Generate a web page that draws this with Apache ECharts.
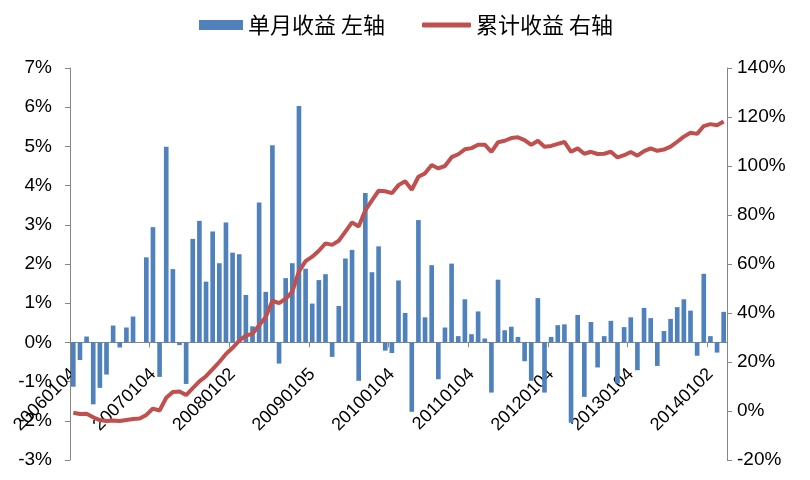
<!DOCTYPE html>
<html>
<head>
<meta charset="utf-8">
<script src="https://cdn.jsdelivr.net/npm/echarts@6/dist/echarts.min.js"></script>
<style>html,body{margin:0;padding:0;background:#fff;}#c{width:810px;height:480px;}</style>
</head>
<body>
<div id="c"></div>
<script>
// Tick labels shown on the x axis (first trading day of each year)
var yearTicks = ['20060104','20070104','20080102','20090105','20100104','20110104','20120104','20130104','20140102'];
var startYear = 2006;
var monthCount = 99;

// Monthly return (%), left axis
var monthly = [
 -1.13,-0.45,0.15,-1.58,-1.16,-0.82,0.43,-0.13,0.38,0.66,0.00,2.17,
 2.94,-0.88,4.99,1.87,-0.07,-1.06,2.64,3.10,1.55,2.83,2.02,3.06,
 2.29,2.25,1.21,0.41,3.57,1.29,5.03,-0.54,1.64,2.02,6.03,1.88,
 0.99,1.59,1.74,-0.37,0.93,2.14,2.36,-0.98,3.81,1.79,2.45,-0.21,
 -0.27,1.58,0.75,-1.77,3.12,0.64,1.97,-0.94,0.38,2.01,0.16,1.10,
 0.21,0.79,0.10,-1.28,1.60,0.31,0.40,0.14,-0.48,-0.98,1.13,-1.28,
 0.14,0.44,0.46,-2.05,0.70,-1.39,0.52,-0.64,0.16,0.55,-1.05,0.39,
 0.64,-0.71,0.88,0.62,-0.60,0.29,0.60,0.90,1.10,0.81,-0.34,1.75,
 0.16,-0.26,0.78
];

// Cumulative return (%), right axis
var cumulative = [
 -0.7,-1.2,-1.1,-2.6,-3.7,-4.1,-3.9,-4.1,-3.7,-3.3,-3.1,-1.6,
 1.0,0.2,5.4,7.8,8.0,6.5,9.3,12.1,14.2,17.1,20.0,23.3,
 25.8,28.7,30.8,31.5,35.0,38.4,45.0,44.0,45.8,48.7,57.0,61.2,
 63.0,65.4,68.4,67.8,69.5,73.2,77.0,75.3,81.9,86.0,89.9,89.7,
 88.9,92.2,93.8,90.3,95.6,97.0,100.4,99.0,100.0,103.6,104.8,106.8,
 107.3,108.7,108.7,105.8,109.7,110.3,111.4,111.7,110.6,108.6,110.3,107.9,
 108.2,109.0,109.8,105.8,107.2,105.0,105.8,104.9,105.0,105.8,103.5,104.4,
 105.7,104.2,106.1,107.2,106.2,106.7,107.9,109.9,112.0,113.6,113.1,116.3,
 117.1,116.6,118.2
];

var seriesNames = ['单月收益 左轴','累计收益 右轴'];

var categories = [];
for (var i = 0; i < monthCount; i++) {
  if (i % 12 === 0) { categories.push(yearTicks[i / 12]); }
  else {
    var y = startYear + Math.floor(i / 12), m = (i % 12) + 1;
    categories.push(String(y) + (m < 10 ? '0' + m : m));
  }
}

var axisGray = '#868686';
var latin = 'Liberation Sans';
var gridTop = 68, gridBottom = 20, chartH = 480;
var leftMin = -3, leftMax = 7;
// place the category axis on the zero line of the left axis
var plotH = chartH - gridTop - gridBottom;
var zeroOffset = -plotH * (0 - leftMin) / (leftMax - leftMin);

var chart = echarts.init(document.getElementById('c'), null, {renderer: 'canvas'});
chart.setOption({
  animation: false,
  backgroundColor: '#fff',
  legend: [
    {data: [seriesNames[0]], left: 194, top: 9, itemWidth: 44, itemHeight: 10, icon: 'rect',
     textStyle: {fontSize: 22, color: '#000', fontFamily: 'Noto Sans CJK SC'}},
    {data: [seriesNames[1]], left: 417, top: 9, itemWidth: 49, itemHeight: 5, icon: 'roundRect',
     textStyle: {fontSize: 22, color: '#000', fontFamily: 'Noto Sans CJK SC'}}
  ],
  grid: {left: 70, right: 83, top: gridTop, bottom: gridBottom, containLabel: false, outerBoundsMode: 'none'},
  xAxis: {
    type: 'category', data: categories, boundaryGap: true, position: 'bottom', offset: zeroOffset,
    axisLine: {onZero: false, lineStyle: {color: axisGray, width: 1}},
    axisTick: {show: true, interval: 11, length: 5, lineStyle: {color: axisGray}},
    axisLabel: {interval: 11, rotate: 45, margin: 29, fontSize: 18, color: '#000', fontFamily: latin},
    splitLine: {show: false}
  },
  yAxis: [
    {type: 'value', position: 'left', min: leftMin, max: leftMax, interval: 1,
     axisLine: {show: true, lineStyle: {color: axisGray}},
     axisTick: {show: true, length: 5, lineStyle: {color: axisGray}},
     axisLabel: {formatter: '{value}%', color: '#000', fontSize: 19, margin: 18, fontFamily: latin},
     splitLine: {show: false}},
    {type: 'value', position: 'right', min: -20, max: 140, interval: 20,
     axisLine: {show: true, lineStyle: {color: axisGray}},
     axisTick: {show: true, length: 5, lineStyle: {color: axisGray}},
     axisLabel: {formatter: '{value}%', color: '#000', fontSize: 19, margin: 10, fontFamily: latin},
     splitLine: {show: false}}
  ],
  series: [
    {name: seriesNames[0], type: 'bar', data: monthly, yAxisIndex: 0, barCategoryGap: '30%',
     itemStyle: {color: '#4F81BD'}, z: 2},
    {name: seriesNames[1], type: 'line', data: cumulative, yAxisIndex: 1, symbol: 'none', showSymbol: false,
     lineStyle: {color: '#C0504D', width: 4}, itemStyle: {color: '#C0504D'}, z: 3}
  ]
});
</script>
</body>
</html>
